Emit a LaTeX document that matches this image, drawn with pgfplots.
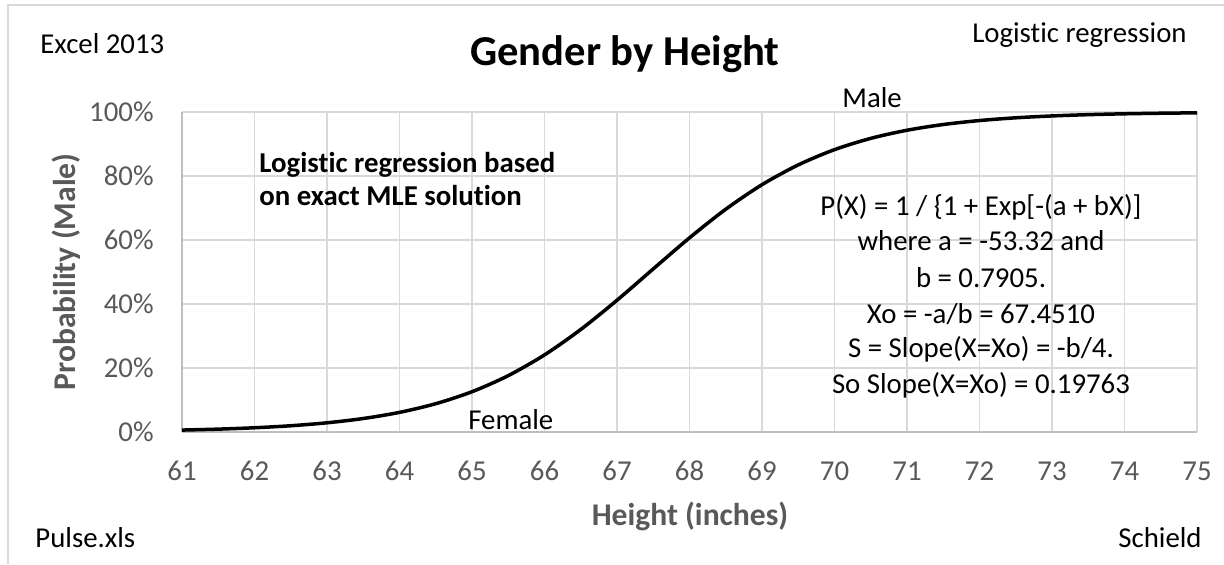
\documentclass[border=0pt]{standalone}
\usepackage{pgfplots}
\pgfplotsset{compat=1.18}
\usepackage{fontspec}
\setmainfont{Carlito}[RawFeature={-liga;-clig}]
\definecolor{gridc}{HTML}{D9D9D9}
\definecolor{axc}{HTML}{BFBFBF}
\definecolor{txtg}{HTML}{595959}
\newcommand{\fs}{\fontsize{14.4}{17}\selectfont}
\begin{document}
\begin{tikzpicture}
\useasboundingbox (0,0) rectangle (612pt,282pt);
\fill[white] (0,0) rectangle (612pt,282pt);
\draw[gridc, line width=0.75pt] (4pt,0pt) -- (4pt,279.5pt) -- (612pt,279.5pt);
\begin{axis}[
  at={(91pt,66pt)}, anchor=south west,
  scale only axis, width=507.5pt, height=160pt,
  xmin=61, xmax=75, ymin=0, ymax=1,
  xtick={61,62,...,75},
  xticklabels={61,62,63,64,65,66,67,68,69,70,71,72,73,74,75},
  ytick={0,0.2,0.4,0.6,0.8,1},
  yticklabels={0\%,20\%,40\%,60\%,80\%,100\%},
  major tick length=0pt,
  grid=major,
  major grid style={gridc, line width=0.75pt},
  axis x line*=bottom, axis y line*=left,
  axis line style={-, axc, line width=1pt},
  xticklabel style={font=\fs, text=txtg, anchor=base, inner sep=0pt, yshift=-24pt},
  yticklabel style={font=\fs, text=txtg, anchor=east, inner sep=0pt, xshift=-14pt},
  clip=false,
]
\addplot[black, line width=1.75pt, smooth] coordinates {
(61,0.00606) (61.5,0.00898) (62,0.01327) (62.5,0.01957) (63,0.02879) (63.5,0.04216)
(64,0.06135) (64.5,0.08843) (65,0.1259) (65.5,0.1762) (66,0.2410) (66.5,0.3204)
(67,0.4118) (67.5,0.5097) (68,0.6068) (68.5,0.6962) (69,0.7729) (69.5,0.8347)
(70,0.8824) (70.5,0.9176) (71,0.9430) (71.5,0.9609) (72,0.9733) (72.5,0.9819)
(73,0.9877) (73.5,0.9917) (74,0.9944) (74.5,0.9962) (75,0.9974)
};
\end{axis}
% titles and labels
\node[anchor=base, font=\fontsize{21.3}{25}\selectfont\bfseries] at (312.5pt,249.5pt) {Gender by Height};
\node[anchor=base west, font=\fs, inner sep=0pt] at (20pt,255.5pt) {Excel 2013};
\node[anchor=base east, font=\fs, inner sep=0pt] at (593.5pt,261pt) {Logistic regression};
\node[anchor=base west, font=\fs, inner sep=0pt] at (17.5pt,8.5pt) {Pulse.xls};
\node[anchor=base east, font=\fs, inner sep=0pt] at (601pt,8.5pt) {Schield};
\node[anchor=base, font=\fontsize{15.8}{19}\selectfont\bfseries, text=txtg, inner sep=0pt] at (345pt,19.5pt) {Height (inches)};
\node[anchor=base, rotate=90, font=\fontsize{15.8}{19}\selectfont\bfseries, text=txtg, inner sep=0pt] at (37.5pt,146pt) {Probability (Male)};
% annotations
\node[anchor=base west, font=\fs, inner sep=0pt] at (421pt,228.5pt) {Male};
\node[anchor=base west, font=\fs, inner sep=0pt] at (234pt,67.5pt) {Female};
\node[anchor=base west, font=\fs\bfseries, inner sep=0pt] at (129.5pt,196pt) {Logistic regression based};
\node[anchor=base west, font=\fs\bfseries, inner sep=0pt] at (129.5pt,179.5pt) {on exact MLE solution};
\node[anchor=base, font=\fs, inner sep=0pt] at (490.5pt,174.5pt) {P(X) = 1 / \{1 + Exp[-(a + bX)]};
\node[anchor=base, font=\fs, inner sep=0pt] at (490.5pt,157pt) {where a = -53.32 and};
\node[anchor=base, font=\fs, inner sep=0pt] at (490.5pt,138.5pt) {b = 0.7905.};
\node[anchor=base, font=\fs, inner sep=0pt] at (490.5pt,120.5pt) {Xo = -a/b = 67.4510};
\node[anchor=base, font=\fs, inner sep=0pt] at (490.5pt,103.5pt) {S = Slope(X=Xo) = -b/4.};
\node[anchor=base, font=\fs, inner sep=0pt] at (490.5pt,85.5pt) {So Slope(X=Xo) = 0.19763};
\end{tikzpicture}
\end{document}
